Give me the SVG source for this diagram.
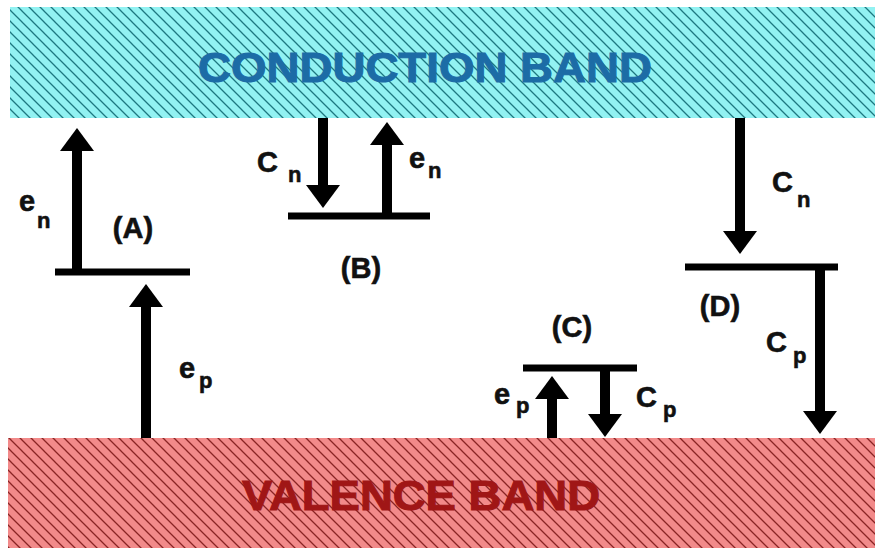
<svg xmlns="http://www.w3.org/2000/svg" width="875" height="548" viewBox="0 0 875 548">
<defs>
<pattern id="hatchC" patternUnits="userSpaceOnUse" width="11" height="11">
<rect width="11" height="11" fill="#92f2f2"/>
<path d="M0,0 L11,11 M-1,10 L1,12 M10,-1 L12,1" stroke="#1d7880" stroke-width="1.3"/>
</pattern>
<pattern id="hatchV" patternUnits="userSpaceOnUse" width="11" height="11">
<rect width="11" height="11" fill="#f28a8a"/>
<path d="M0,0 L11,11 M-1,10 L1,12 M10,-1 L12,1" stroke="#8a2424" stroke-width="1.3"/>
</pattern>
<marker id="ah" viewBox="0 0 23 34" refX="0" refY="17" markerWidth="23" markerHeight="34" markerUnits="userSpaceOnUse" orient="auto" overflow="visible">
<path d="M0,0 L23,17 L0,34 Z" fill="#000"/>
</marker>
</defs>
<style>
.lvl{stroke:#000;stroke-width:7;fill:none}
.arr{stroke:#000;stroke-width:10;fill:none}
.lb{font-family:"Liberation Sans",Arial,sans-serif;font-weight:bold;fill:#111;stroke:#111;stroke-width:0.6}
.m{font-size:29px}
.s{font-size:22px}
.band{font-family:"Liberation Sans",Arial,sans-serif;font-weight:bold;font-size:42px}
</style>
<rect width="875" height="548" fill="#fff"/>
<g id="conduction-band">
<rect x="10" y="7" width="865" height="111" fill="url(#hatchC)"/>
<text class="band" x="198" y="82" textLength="454" lengthAdjust="spacingAndGlyphs" fill="#1c6ca6" stroke="#1c6ca6" stroke-width="1">CONDUCTION BAND</text>
</g>
<g id="valence-band">
<rect x="8" y="438" width="867" height="110" fill="url(#hatchV)"/>
<text class="band" x="242" y="510" textLength="358" lengthAdjust="spacingAndGlyphs" font-size="39" fill="#a01616" stroke="#a01616" stroke-width="1">VALENCE BAND</text>
</g>
<g id="level-A"><line class="lvl" x1="55" y1="272" x2="190" y2="272"/></g>
<g id="level-B"><line class="lvl" x1="288" y1="216" x2="430" y2="216"/></g>
<g id="level-C"><line class="lvl" x1="523" y1="368" x2="637" y2="368"/></g>
<g id="level-D"><line class="lvl" x1="685" y1="267" x2="838" y2="267"/></g>
<g id="connectors">
<line class="arr" x1="77" y1="272" x2="77" y2="151" marker-end="url(#ah)"/>
<line class="arr" x1="146" y1="438" x2="146" y2="307" marker-end="url(#ah)"/>
<line class="arr" x1="323" y1="118" x2="323" y2="185" marker-end="url(#ah)"/>
<line class="arr" x1="387" y1="216" x2="387" y2="145" marker-end="url(#ah)"/>
<line class="arr" x1="740" y1="118" x2="740" y2="231" marker-end="url(#ah)"/>
<line class="arr" x1="820" y1="267" x2="820" y2="411" marker-end="url(#ah)"/>
<line class="arr" x1="552" y1="438" x2="552" y2="399" marker-end="url(#ah)"/>
<line class="arr" x1="605" y1="368" x2="605" y2="414" marker-end="url(#ah)"/>
</g>
<g id="labels">
<text class="lb m" x="19" y="211">e</text><text class="lb s" x="37" y="228">n</text>
<text class="lb m" x="133" y="238" text-anchor="middle">(A)</text>
<text class="lb m" x="179" y="378">e</text><text class="lb s" x="199" y="388">p</text>
<text class="lb m" x="257" y="172">C</text><text class="lb s" x="288" y="182">n</text>
<text class="lb m" x="409" y="168">e</text><text class="lb s" x="428" y="178">n</text>
<text class="lb m" x="361" y="278" text-anchor="middle">(B)</text>
<text class="lb m" x="772" y="192">C</text><text class="lb s" x="797" y="207">n</text>
<text class="lb m" x="720" y="316" text-anchor="middle">(D)</text>
<text class="lb m" x="766" y="352">C</text><text class="lb s" x="793" y="363">p</text>
<text class="lb m" x="572" y="337" text-anchor="middle">(C)</text>
<text class="lb m" x="494" y="404">e</text><text class="lb s" x="516" y="413">p</text>
<text class="lb m" x="636" y="407">C</text><text class="lb s" x="663" y="417">p</text>
</g>
</svg>
